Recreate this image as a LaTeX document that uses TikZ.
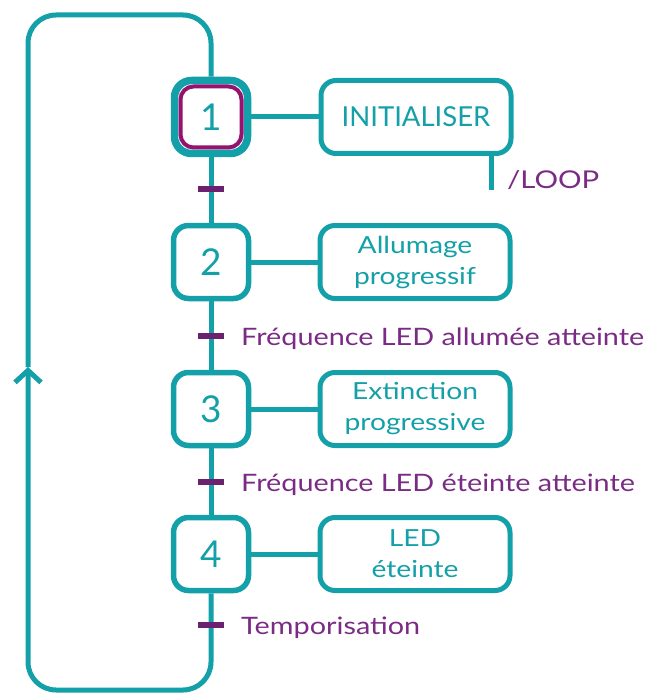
\documentclass[tikz,border=0pt]{standalone}
\usepackage{fontspec}
\setmainfont{Lato}
\newfontfamily\widefont[FakeStretch=1.2]{Lato}
\usetikzlibrary{arrows.meta}
\definecolor{tealc}{HTML}{14A0A8}
\definecolor{purp}{HTML}{7A2C85}
\definecolor{barp}{HTML}{6B2070}
\definecolor{magc}{HTML}{93136F}
\tikzset{
  lnk/.style={draw=tealc, line width=5pt},
  stepbox/.style={draw=tealc, line width=5.5pt, rounded corners=15pt, minimum width=75pt, minimum height=73pt, inner sep=0pt, text=tealc, font=\fontsize{37}{40}\selectfont, fill=white},
  actbox/.style={draw=tealc, line width=5pt, rounded corners=15pt, minimum width=190pt, minimum height=73pt, inner sep=0pt, text=tealc, align=center, font=\widefont\fontsize{23.5}{31}\selectfont, fill=white},
  tbar/.style={fill=barp, minimum width=26pt, minimum height=6pt, inner sep=0pt},
  tlabel/.style={anchor=base west, text=purp, inner sep=0pt, font=\widefont\fontsize{24}{28}\selectfont},
}
\begin{document}
\begin{tikzpicture}[x=1pt,y=-1pt]
\useasboundingbox (0,0) rectangle (649,695);
% steps
\node[draw=tealc, line width=7.5pt, rounded corners=17pt, minimum width=73pt, minimum height=73pt, inner sep=0pt, fill=white] (s1o) at (211,117) {};
\node[draw=magc, line width=4pt, rounded corners=13pt, minimum width=61pt, minimum height=61pt, inner sep=0pt, text=tealc, font=\fontsize{37}{40}\selectfont] (s1) at (211,117) {1};
\node[stepbox] (s2) at (211,262) {2};
\node[stepbox] (s3) at (211,409) {3};
\node[stepbox] (s4) at (211,554) {4};
% actions
\node[actbox, font=\fontsize{27.5}{31}\selectfont] (a1) at (416,117) {INITIALISER};
\node[actbox] (a2) at (415,262) {Allumage\\progressif};
\node[actbox] (a3) at (415,409) {Extinction\\progressive};
\node[actbox] (a4) at (415,554) {LED\\éteinte};
% step-action links
\draw[lnk] (s1o.east) -- (a1.west);
\draw[lnk] (s2.east) -- (a2.west);
\draw[lnk] (s3.east) -- (a3.west);
\draw[lnk] (s4.east) -- (a4.west);
% /LOOP
\coordinate (lp) at (491,190);
\draw[lnk] (a1.south -| lp) -- (lp);
\node[anchor=base west, text=purp, inner sep=0pt, font=\widefont\fontsize{24.5}{30}\selectfont] (loop) at (507,188) {/LOOP};
% vertical links
\draw[lnk] (s1o.south) -- (s2.north);
\draw[lnk] (s2.south) -- (s3.north);
\draw[lnk] (s3.south) -- (s4.north);
% loop back
\coordinate (lb) at (28,690);
\coordinate (lt) at (28,15);
\coordinate (rt) at (211,15);
\coordinate (arr) at (28,367);
\draw[lnk, rounded corners=28pt, -{Straight Barb[length=12pt,width=26pt]}] (s4.south) |- (lb) -- (arr);
\draw[lnk, rounded corners=28pt] (arr) -- (lt) -- (rt) -- (s1o.north);
% transitions
\node[tbar] (t1) at (211,189) {};
\node[tbar] (t2) at (211,336) {};
\node[tbar] (t3) at (211,482) {};
\node[tbar] (t4) at (211,625) {};
\node[tlabel] (l2) at (241,345) {Fréquence LED allumée atteinte};
\node[tlabel] (l3) at (241,491) {Fréquence LED éteinte atteinte};
\node[tlabel] (l4) at (241,634) {Temporisation};
\end{tikzpicture}
\end{document}
